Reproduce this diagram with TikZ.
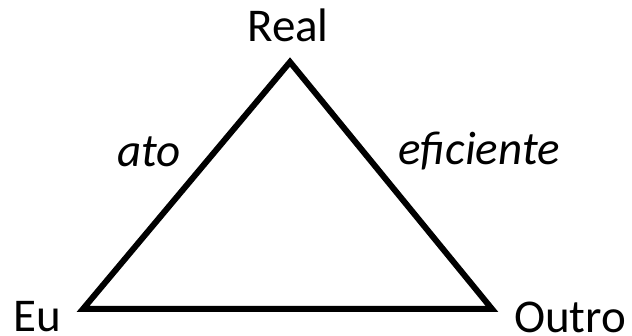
\documentclass[tikz,border=0pt]{standalone}
\usepackage{fontspec}
\setmainfont{Carlito}
\begin{document}
\begin{tikzpicture}[x=1pt,y=-1pt,
  lbl/.style={anchor=base,inner sep=0pt,font=\fontsize{47}{56}\selectfont},
  edge/.style={line width=6pt,line join=miter,black}]
\useasboundingbox (0,0) rectangle (632,336);
\coordinate (A) at (290,62);
\coordinate (L) at (83,309);
\coordinate (R) at (492,309);
\draw[edge] (A) -- (L) -- (R) -- cycle;
\node[lbl] (real) at (288,42) {Real};
\node[lbl] (eu) at (37,332) {Eu};
\node[lbl] (outro) at (570,333) {Outro};
\node[lbl] (ato) at (149,167) {\itshape ato};
\node[lbl] (efic) at (479,165) {\itshape eficiente};
\end{tikzpicture}
\end{document}
